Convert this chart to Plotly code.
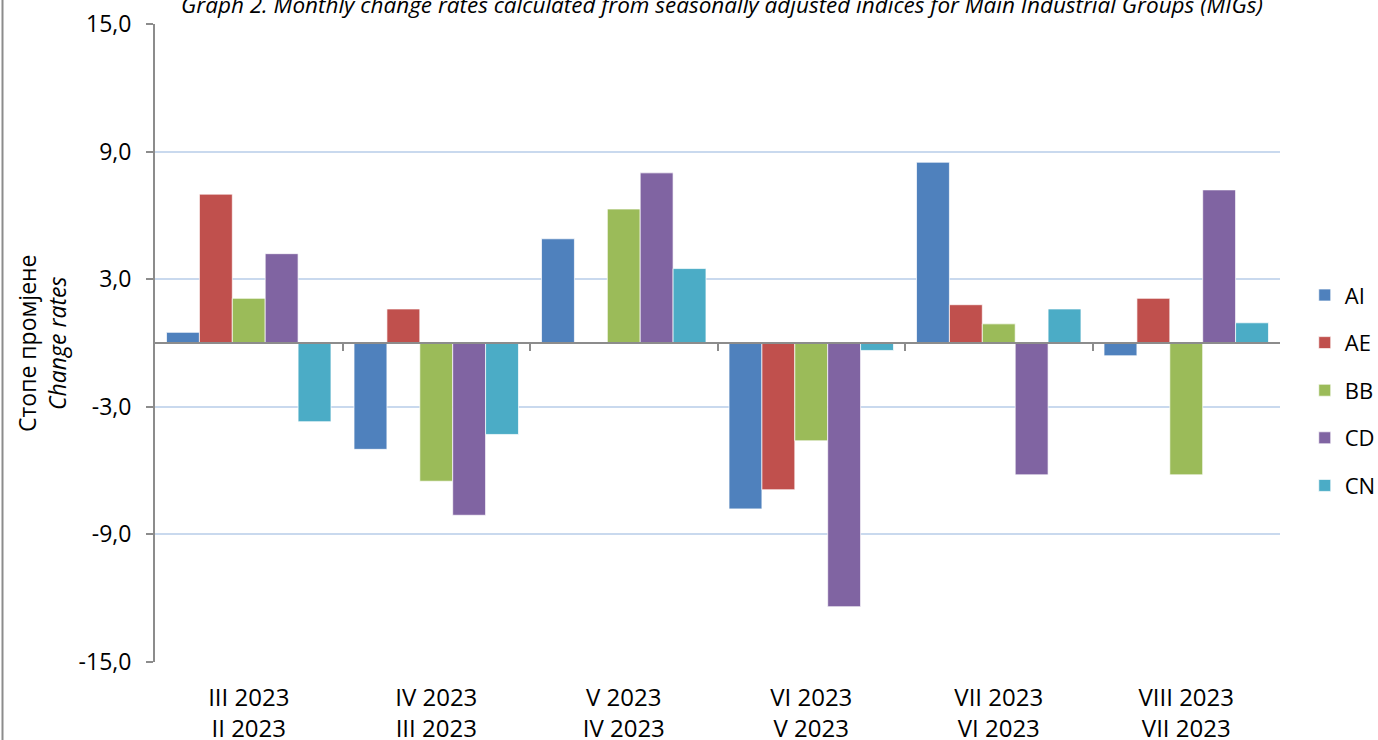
import plotly.graph_objects as go

categories = ["III 2023<br>II 2023", "IV 2023<br>III 2023", "V 2023<br>IV 2023",
              "VI 2023<br>V 2023", "VII 2023<br>VI 2023", "VIII 2023<br>VII 2023"]
series_names = ["AI", "AE", "BB", "CD", "CN"]
AI = [0.5, -5.0, 4.9, -7.8, 8.5, -0.6]
AE = [7.0, 1.6, -0.05, -6.9, 1.8, 2.1]
BB = [2.1, -6.5, 6.3, -4.6, 0.9, -6.2]
CD = [4.2, -8.1, 8.0, -12.4, -6.2, 7.2]
CN = [-3.7, -4.3, 3.5, -0.35, 1.6, 0.95]
series_values = [AI, AE, BB, CD, CN]
y_tick_values = [-15, -9, -3, 3, 9, 15]
y_tick_labels = ["-15,0", "-9,0", "-3,0", "3,0", "9,0", "15,0"]
colors = ["#4F81BD", "#C0504D", "#9BBB59", "#8064A2", "#4BACC6"]
title_text = "Graph 2. Monthly change rates calculated from seasonally adjusted indices for Main Industrial Groups (MIGs)"
y_title = "Стопе промјене<br><i>Change rates</i>"

FONT = "Open Sans"
fig = go.Figure()
for name, vals, col in zip(series_names, series_values, colors):
    fig.add_trace(go.Bar(
        x=list(range(len(categories))), y=vals, name=name, legendgroup=name,
        marker=dict(color=col, line=dict(color="rgba(255,255,255,0.7)", width=1)),
    ))

boundaries = [i + 0.5 for i in range(len(categories) - 1)]

fig.update_layout(
    width=1378, height=740,
    margin=dict(l=155, r=98, t=24, b=78, autoexpand=False),
    paper_bgcolor="white", plot_bgcolor="white",
    barmode="group", bargap=0.123, bargroupgap=0,
    font=dict(family=FONT, size=24, color="black"),
    showlegend=True,
    legend=dict(x=1.022, xanchor="left", y=0.426, yanchor="middle",
                font=dict(family=FONT, size=22, color="black"),
                tracegroupgap=16, bgcolor="rgba(0,0,0,0)"),
    xaxis=dict(
        range=[-0.5, len(categories) - 0.5], automargin=False,
        tickvals=list(range(len(categories))), ticktext=categories,
        showline=False, ticks="", showgrid=False, zeroline=False,
        tickfont=dict(family=FONT, size=24, color="black"),
        ticklabelstandoff=19,
    ),
    xaxis2=dict(
        overlaying="x", anchor="free", position=0.5, automargin=False,
        range=[-0.5, len(categories) - 0.5],
        tickvals=boundaries, ticks="outside", ticklen=7, tickwidth=2,
        tickcolor="#8C8C8C", showticklabels=False,
        showline=True, linecolor="#8C8C8C", linewidth=2,
        showgrid=False, zeroline=False,
    ),
    yaxis=dict(
        range=[-15, 15], automargin=False,
        tickvals=y_tick_values, ticktext=y_tick_labels,
        showgrid=True, gridcolor="#C9D9EE", gridwidth=1.5,
        zeroline=False,
        showline=True, linecolor="#8C8C8C", linewidth=2,
        ticks="outside", ticklen=7, tickwidth=2, tickcolor="#8C8C8C",
        tickfont=dict(family=FONT, size=23, color="black"),
        ticklabelstandoff=10,
    ),
    annotations=[
        dict(text=title_text, xref="paper", yref="paper", x=0.504, y=1,
             xanchor="center", yanchor="middle", yshift=20, showarrow=False,
             font=dict(family=FONT, size=22.5, color="black", style="italic")),
        dict(text=y_title, xref="paper", yref="paper", x=(42 - 155) / 1125, y=0.5,
             xanchor="center", yanchor="middle", textangle=-90, showarrow=False,
             font=dict(family=FONT, size=23, color="black")),
    ],
    shapes=[
        dict(type="line", xref="paper", yref="paper", x0=(2.5 - 155) / 1125, x1=(2.5 - 155) / 1125,
             y0=-0.2, y1=1.1, line=dict(color="#8C8C8C", width=2)),
    ],
)
# invisible helper trace so the boundary-tick axis at zero is drawn
fig.add_trace(go.Scatter(x=[0], y=[0], xaxis="x2", mode="markers",
                         marker=dict(opacity=0), showlegend=False, hoverinfo="skip"))

fig.write_html("out.html", config={"displayModeBar": False},
               post_script="document.body.style.margin='0';document.body.style.overflow='hidden';")
